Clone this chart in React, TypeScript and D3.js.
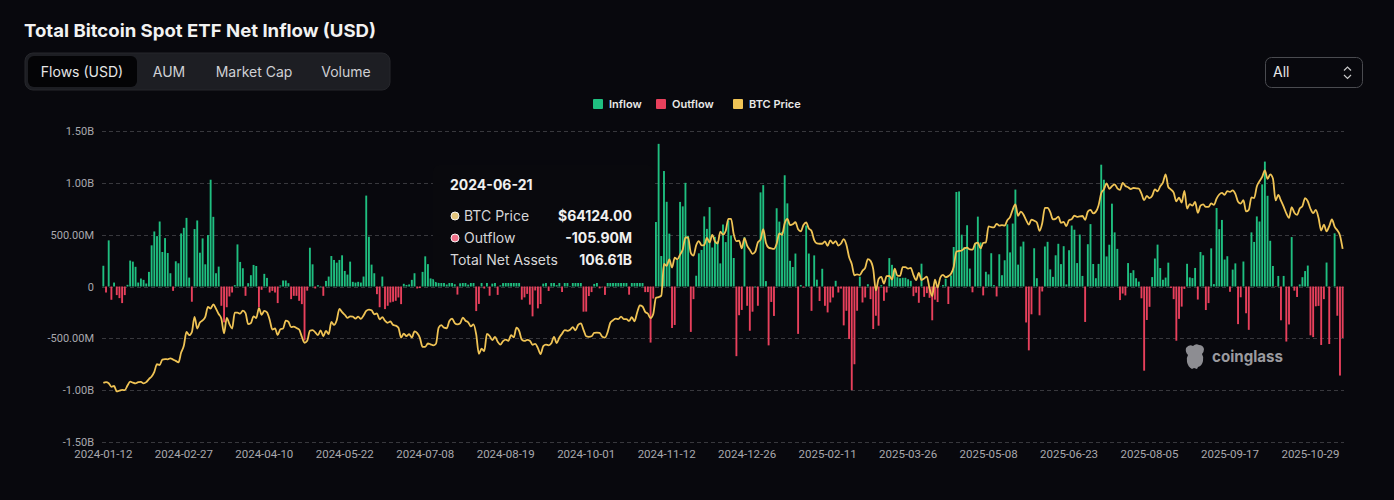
import React, { useEffect, useRef } from "react";
import * as d3 from "d3";

// daily net flow, millions USD (one entry per trading day, 2024-01-12 .. 2025-11-14)
const flows = [
  200, -58, 445, -128, 38, -83, -112, -160, -83, 16,
  250, 240, 190, 38, 77, 64, 29, 141, 397, 531,
  486, 627, 333, 467, 323, 128, -42, 243, 224, 512,
  566, 662, 86, -147, 554, 637, 326, 464, 214, 496,
  1030, 672, 128, 192, -186, -346, -200, -96, -58, 13,
  406, 237, 176, -90, 32, 109, 208, 198, -200, -32,
  122, 83, -58, -42, -58, -160, 10, 58, 58, 32,
  -122, -90, -90, -138, -170, -520, -40, 374, 214, -19,
  13, 5, -90, 54, 96, 294, 256, 230, 256, 301,
  150, 115, 240, 45, 38, 45, 38, 96, 877, 480,
  211, 128, -74, -200, 96, -218, -186, -154, -147, -138,
  -105.9, -170, 26, 15, 20, 64, 128, -19, -15, 141,
  291, 216, 78, 73, 310, 301, 422, 53, 19, 384,
  486, 22, -78, 31, 252, 124, 18, 50, 50, -237,
  -168, 45, -20, 195, -89, 28, 39, -81, 11, 33,
  62, 88, 39, 65, 252, 202, -127, -105, -71, -175,
  -288, -38, -211, -169, 28, 117, -43, 39, 263, 13,
  187, -53, 158, 92, 4, 136, 106, 365, 494, -243,
  -242, -92, -54, 25, 235, -18, -3, -81, 253, 555,
  371, 458, 470, 273, 294, 192, -79, 188, 402, 479,
  870, 893, -54, -54, -541, -116, 622, 1376, 294, 1114,
  817, 510, -400, -371, 255, 816, 773, 1000, 490, -438,
  -122, 104, 320, 353, 676, 556, 766, 376, 479, 439,
  223, 598, 428, 637, 493, 275, -672, -277, -226, 475,
  -186, -427, -243, 5, -186, 908, 978, 52, -568, -149,
  -284, 755, 626, 527, 1073, 802, 248, 188, 318, -457,
  15, -10, 588, 318, -235, 300, 66, -140, 171, -186,
  -250, -154, -106, 55, -58, -20, -375, -234, -507, -1000,
  -750, -234, 95, -154, -106, 22, -122, -410, -282, -378,
  13, -138, -58, 274, 209, 160, 90, 80, 84, 84,
  70, 55, -93, -60, -157, 220, -100, -64, -109, -326,
  -127, -150, 2, 15, 76, -169, 107, 381, 912, 917,
  500, 381, 591, 173, -56, 422, 674, 425, -86, 142,
  117, 321, 13, -96, 311, 109, 253, 600, 329, 607,
  935, 211, 386, 433, -347, -616, -268, 369, 80, -278,
  -48, 386, 431, 165, 93, 301, 412, 216, 389, 20,
  350, 588, 548, 226, 501, 102, -342, 408, 602, 217,
  80, 218, 1175, 1030, 290, 403, 799, 522, 363, -131,
  -68, -86, 226, 131, 157, 80, 47, -114, -812, -323,
  -196, 91, 270, 404, 178, 65, 86, 230, -14, -122,
  -523, -312, -194, -23, 219, 88, 81, 179, -126, 333,
  301, -227, -160, 368, 23, 757, 553, 642, 260, 292,
  -51, 163, 223, -363, -104, 241, -258, -418, 522, 430,
  676, 627, 985, 1205, 875, 441, 198, -4.5, 102, -326,
  102, -531, -366, 477, -40, -101, 20, 90, 149, 202,
  -471, -488, -191, -187, -564, -122, 231, -555, 1, 513,
  -282, -859, -497,
];

// BTC price, thousands USD, same days
const btcPriceK = [
  42.8, 43.1, 42.7, 41.3, 41.6, 39.5, 39.8, 40.1, 40.0, 41.8,
  43.3, 42.9, 42.6, 43.1, 43.2, 42.6, 43.1, 44.3, 45.3, 47.1,
  50.0, 49.7, 51.8, 52.0, 51.9, 52.3, 51.8, 51.3, 50.7, 54.5,
  57.1, 62.5, 61.2, 62.4, 68.3, 63.8, 66.1, 66.9, 68.3, 72.1,
  71.5, 73.1, 71.4, 69.4, 67.6, 61.9, 67.9, 65.5, 63.8, 69.9,
  69.9, 69.5, 70.7, 69.7, 65.5, 65.9, 68.5, 67.8, 71.6, 69.1,
  70.6, 70.0, 67.2, 63.4, 63.8, 61.3, 63.5, 63.8, 66.8, 66.4,
  64.3, 64.5, 64.0, 63.4, 60.6, 58.3, 59.1, 62.9, 63.2, 62.3,
  61.2, 63.1, 60.8, 62.9, 61.6, 66.3, 65.2, 67.0, 71.4, 70.1,
  69.1, 67.9, 68.5, 68.4, 67.6, 68.4, 67.5, 68.8, 70.6, 71.1,
  70.8, 69.3, 69.6, 67.3, 68.2, 66.8, 66.0, 66.5, 65.2, 64.9,
  64.124, 60.3, 61.8, 60.9, 61.6, 60.3, 62.7, 62.0, 60.2, 56.7,
  56.7, 58.0, 57.7, 57.3, 57.9, 64.1, 65.1, 64.1, 63.9, 66.7,
  67.6, 65.9, 65.4, 65.8, 68.0, 66.8, 66.2, 64.6, 65.4, 61.5,
  54.0, 56.0, 55.1, 61.7, 60.9, 59.3, 60.6, 58.7, 57.6, 58.9,
  59.5, 59.0, 61.2, 60.4, 64.1, 62.9, 59.5, 59.0, 59.4, 59.1,
  57.5, 57.9, 56.2, 53.9, 57.0, 57.6, 57.3, 58.1, 60.6, 58.2,
  60.3, 61.8, 63.2, 62.9, 63.3, 64.3, 63.1, 65.2, 65.8, 63.3,
  60.8, 60.6, 60.8, 62.1, 62.2, 62.1, 60.6, 60.3, 62.4, 66.0,
  67.0, 67.6, 67.4, 68.4, 67.4, 67.4, 66.7, 68.2, 66.6, 70.0,
  72.7, 72.3, 70.2, 69.5, 67.8, 69.4, 75.6, 75.9, 76.5, 88.7,
  88.0, 90.5, 87.3, 91.1, 90.5, 92.3, 94.3, 98.9, 98.9, 93.0,
  91.9, 95.9, 97.5, 95.9, 96.0, 98.8, 97.0, 99.9, 97.4, 96.6,
  101.2, 100.0, 101.4, 106.1, 106.1, 100.2, 97.5, 97.7, 94.7, 98.7,
  95.8, 94.2, 92.6, 93.4, 97.0, 98.1, 102.1, 96.9, 95.0, 94.7,
  94.5, 96.5, 100.5, 99.9, 104.4, 106.1, 103.7, 104.0, 104.8, 102.1,
  101.3, 103.7, 104.7, 102.4, 101.4, 97.9, 96.6, 96.5, 96.5, 97.4,
  95.7, 97.8, 96.6, 97.5, 95.8, 96.6, 98.3, 96.1, 91.4, 88.7,
  84.3, 84.7, 84.4, 86.1, 87.2, 90.6, 89.9, 86.7, 78.5, 82.9,
  83.7, 81.1, 84.0, 84.1, 82.7, 86.9, 84.2, 84.1, 87.5, 87.5,
  86.9, 87.2, 84.4, 82.5, 85.2, 82.5, 83.1, 83.8, 79.2, 76.3,
  82.6, 79.6, 83.4, 84.5, 83.6, 84.0, 84.9, 87.5, 93.4, 93.7,
  93.9, 94.7, 95.0, 94.3, 94.2, 96.5, 96.9, 94.7, 96.8, 97.0,
  103.2, 102.9, 102.8, 104.2, 103.5, 103.7, 103.5, 105.6, 106.8, 109.7,
  111.7, 107.3, 108.9, 107.8, 105.6, 103.9, 105.8, 105.4, 104.7, 101.5,
  104.4, 110.3, 110.3, 108.7, 105.9, 106.1, 107.0, 104.6, 104.9, 103.3,
  105.6, 106.0, 107.3, 106.9, 107.1, 107.2, 105.7, 108.9, 109.6, 108.2,
  108.9, 111.3, 116.0, 117.5, 119.8, 117.7, 118.7, 119.4, 117.9, 117.3,
  120.0, 118.8, 118.3, 117.6, 118.0, 117.9, 117.8, 115.8, 113.3, 115.0,
  114.1, 115.0, 117.5, 116.7, 118.7, 120.1, 123.3, 118.4, 117.4, 116.2,
  112.9, 114.3, 112.4, 116.9, 110.1, 111.8, 111.2, 112.6, 108.4, 111.2,
  111.7, 110.7, 110.7, 112.1, 111.5, 113.9, 115.5, 116.1, 115.4, 116.8,
  116.5, 117.1, 115.7, 112.7, 112.0, 113.3, 109.0, 109.6, 114.4, 114.1,
  118.6, 120.6, 122.3, 124.8, 121.5, 123.3, 121.7, 113.2, 115.3, 113.1,
  110.8, 108.2, 106.5, 110.6, 108.5, 107.6, 110.1, 111.0, 114.1, 112.9,
  110.0, 108.3, 109.6, 106.5, 101.6, 103.9, 101.3, 103.3, 105.9, 103.1,
  101.7, 99.7, 94.5,
];

const xTickLabels = [
  "2024-01-12", "2024-02-27", "2024-04-10", "2024-05-22", "2024-07-08", "2024-08-19",
  "2024-10-01", "2024-11-12", "2024-12-26", "2025-02-11", "2025-03-26", "2025-05-08",
  "2025-06-23", "2025-08-05", "2025-09-17", "2025-10-29",
];
const xTickEvery = 30;
const yTicks = [1500, 1000, 500, 0, -500, -1000, -1500];
const priceDomain = [20, 140];

const tabs = ["Flows (USD)", "AUM", "Market Cap", "Volume"];
const legendNames = ["Inflow", "Outflow", "BTC Price"];

const tooltipIndex = 110;
const tooltipDate = "2024-06-21";
const tooltipNetAssets = "106.61B";

const GREEN = "#1fbf80";
const RED = "#e8405c";
const GOLD = "#efc355";
const BG = "#08080d";
const FONT = "Inter, 'Noto Sans', sans-serif";
const AXIS_FONT = "Roboto, 'DejaVu Sans', sans-serif";

function fmtFlow(v: number) {
  if (v === 0) return "0";
  if (Math.abs(v) >= 1000) return (v / 1000).toFixed(2) + "B";
  return v.toFixed(2) + "M";
}

export default function App() {
  const svgRef = useRef<SVGSVGElement>(null);

  useEffect(() => {
    document.body.style.margin = "0";
    document.body.style.background = BG;
    const svg = d3.select(svgRef.current);
    svg.selectAll("*").remove();

    const left = 102, right = 1344, top = 131, bottom = 442;

    const x = d3.scaleBand<number>()
      .domain(d3.range(flows.length))
      .range([left, right])
      .paddingInner(0.3)
      .paddingOuter(0.15);
    const cx = (i: number) => (x(i) as number) + x.bandwidth() / 2;
    const y = d3.scaleLinear().domain([-1500, 1500]).range([bottom, top]);
    const yp = d3.scaleLinear().domain(priceDomain).range([bottom, top]);

    svg.append("rect").attr("width", 1394).attr("height", 500).attr("fill", BG);

    // title
    svg.append("text")
      .attr("x", 24).attr("y", 37)
      .attr("font-family", FONT).attr("font-weight", 700).attr("font-size", 18)
      .attr("textLength", 352).attr("lengthAdjust", "spacingAndGlyphs")
      .attr("fill", "#f2f2f2")
      .text("Total Bitcoin Spot ETF Net Inflow (USD)");

    // tab group
    svg.append("rect")
      .attr("x", 25).attr("y", 53).attr("width", 365).attr("height", 37).attr("rx", 8)
      .attr("fill", "#1d1e23").attr("stroke", "#26272c");
    svg.append("rect")
      .attr("x", 28).attr("y", 56).attr("width", 109).attr("height", 31).attr("rx", 6)
      .attr("fill", "#040406");
    const tabX = [82, 169, 254, 346];
    svg.selectAll(".tab")
      .data(tabs)
      .enter()
      .append("text")
      .attr("x", (d, i) => tabX[i]).attr("y", 77)
      .attr("text-anchor", "middle")
      .attr("font-family", FONT).attr("font-size", 14)
      .attr("fill", (d, i) => (i === 0 ? "#e6e6e6" : "#cfd0d4"))
      .text(d => d);

    // range select
    svg.append("rect")
      .attr("x", 1265.5).attr("y", 57.5).attr("width", 97).attr("height", 30).attr("rx", 6)
      .attr("fill", "none").attr("stroke", "#4a4b50");
    svg.append("text")
      .attr("x", 1273).attr("y", 77)
      .attr("font-family", FONT).attr("font-size", 14).attr("fill", "#e6e6e6")
      .text("All");
    svg.append("path")
      .attr("d", "M1344 70.5 L1347.5 67 L1351 70.5 M1344 75 L1347.5 78.5 L1351 75")
      .attr("fill", "none").attr("stroke", "#c8c8c8").attr("stroke-width", 1.2);

    // legend
    const legendColors = [GREEN, RED, GOLD];
    const legendX = [593, 656, 733];
    const lg = svg.selectAll(".lg").data(legendNames).enter().append("g");
    lg.append("rect")
      .attr("x", (d, i) => legendX[i]).attr("y", 99).attr("width", 10).attr("height", 10)
      .attr("rx", 1).attr("fill", (d, i) => legendColors[i]);
    lg.append("text")
      .attr("x", (d, i) => legendX[i] + 16).attr("y", 108)
      .attr("font-family", FONT).attr("font-size", 11).attr("font-weight", 600)
      .attr("fill", "#e8e8e8")
      .text(d => d);

    // grid + y labels
    svg.selectAll(".grid").data(yTicks).enter().append("line")
      .attr("x1", left).attr("x2", right)
      .attr("y1", d => Math.round(y(d)) + 0.5).attr("y2", d => Math.round(y(d)) + 0.5)
      .attr("stroke", "#38383d").attr("stroke-dasharray", "4,3");
    svg.selectAll(".ylab").data(yTicks).enter().append("text")
      .attr("x", 94).attr("y", d => y(d) + 4)
      .attr("text-anchor", "end")
      .attr("font-family", AXIS_FONT).attr("font-size", 11).attr("fill", "#a9a9ad")
      .text(d => fmtFlow(d));

    // x labels
    svg.selectAll(".xlab").data(xTickLabels).enter().append("text")
      .attr("x", (d, i) => cx(i * xTickEvery)).attr("y", 458)
      .attr("text-anchor", "middle")
      .attr("font-family", AXIS_FONT).attr("font-size", 11.5).attr("fill", "#a9a9ad")
      .text(d => d);

    // bars
    svg.append("g").selectAll("rect")
      .data(flows)
      .enter()
      .append("rect")
      .attr("x", (d, i) => x(i) as number)
      .attr("width", x.bandwidth())
      .attr("y", d => (d >= 0 ? y(d) : y(0)))
      .attr("height", d => Math.abs(y(d) - y(0)))
      .attr("fill", d => (d >= 0 ? GREEN : RED));

    // price line
    const line = d3.line<number>()
      .x((d, i) => cx(i))
      .y(d => yp(d))
      .curve(d3.curveMonotoneX);
    svg.append("path")
      .datum(btcPriceK)
      .attr("d", line)
      .attr("fill", "none")
      .attr("stroke", GOLD)
      .attr("stroke-width", 1.8);

    // watermark
    svg.append("path")
      .attr("d", "M1186 348 q3 -4 7 -2 q3 -3 6 -1 q4 0 5 4 q0 3 -2 5 q2 3 1 7 q-1 5 -5 6 l-1 2 l-3 -1 l-2 1 q-4 -2 -5 -7 q-1 -4 1 -7 q-3 -3 -2 -7 z")
      .attr("fill", "#8d8d92");
    svg.append("text")
      .attr("x", 1212).attr("y", 362)
      .attr("font-family", FONT).attr("font-weight", 700).attr("font-size", 16)
      .attr("textLength", 71).attr("lengthAdjust", "spacingAndGlyphs")
      .attr("fill", "#9a9a9f")
      .text("coinglass");

    // tooltip
    const tt = svg.append("g");
    tt.append("rect")
      .attr("x", 433).attr("y", 165).attr("width", 221).attr("height", 118).attr("rx", 6)
      .attr("fill", "#09090d");
    tt.append("text")
      .attr("x", 450).attr("y", 190)
      .attr("font-family", FONT).attr("font-weight", 700).attr("font-size", 14)
      .attr("fill", "#f0f0f0")
      .text(tooltipDate);
    const flowVal = flows[tooltipIndex];
    const rows = [
      { label: "BTC Price", value: "$" + (btcPriceK[tooltipIndex] * 1000).toFixed(2), dot: "#e3c57c" },
      { label: flowVal >= 0 ? "Inflow" : "Outflow", value: fmtFlow(flowVal), dot: "#f07089" },
      { label: "Total Net Assets", value: tooltipNetAssets, dot: null },
    ];
    rows.forEach((r, k) => {
      const by = 221 + k * 22;
      if (r.dot) {
        tt.append("circle").attr("cx", 455).attr("cy", by - 5).attr("r", 4)
          .attr("fill", r.dot).attr("stroke", "#f4f4f4").attr("stroke-width", 1);
      }
      tt.append("text")
        .attr("x", r.dot ? 464 : 450).attr("y", by)
        .attr("font-family", FONT).attr("font-size", 14).attr("fill", "#d6d6d8")
        .text(r.label);
      tt.append("text")
        .attr("x", 632).attr("y", by)
        .attr("text-anchor", "end")
        .attr("font-family", FONT).attr("font-weight", 700).attr("font-size", 14)
        .attr("fill", "#f0f0f0")
        .text(r.value);
    });
  }, []);

  return (
    <div style={{ position: "absolute", left: 0, top: 0, width: 1394, height: 500, background: BG }}>
      <svg ref={svgRef} width={1394} height={500} style={{ display: "block" }} />
    </div>
  );
}
